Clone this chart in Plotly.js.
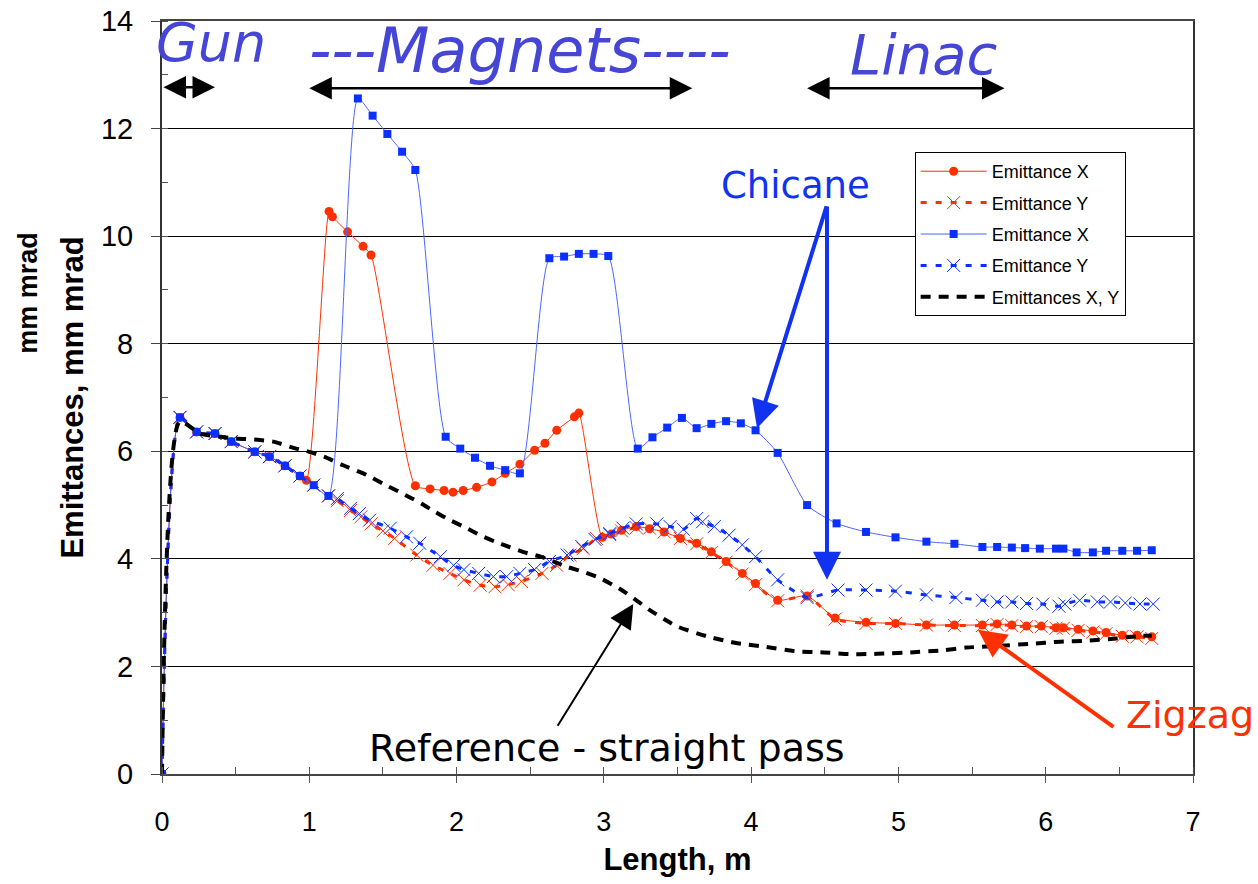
<!DOCTYPE html>
<html>
<head>
<meta charset="utf-8">
<script src="https://cdn.plot.ly/plotly-3.0.1.min.js"></script>
<style>html,body{margin:0;padding:0;background:#fff;}#chart{width:1258px;height:884px;}</style>
</head>
<body>
<div id="chart"></div>
<script>
// ---- Data ----
// Zigzag: Emittance X (red, solid, circles)
var zigXx = [0, 0.122, 0.235, 0.36, 0.47, 0.63, 0.73, 0.835, 0.937, 0.98, 1.134, 1.157, 1.26, 1.365, 1.419, 1.72, 1.82, 1.915, 1.976, 2.045, 2.136, 2.24, 2.33, 2.43, 2.53, 2.60, 2.68, 2.80, 2.83, 2.99, 3.05, 3.12, 3.22, 3.31, 3.41, 3.52, 3.63, 3.73, 3.83, 3.94, 4.03, 4.18, 4.38, 4.57, 4.78, 4.98, 5.19, 5.38, 5.57, 5.67, 5.77, 5.87, 5.97, 6.07, 6.12, 6.22, 6.32, 6.41, 6.52, 6.62, 6.72];
var zigXy = [0, 6.63, 6.36, 6.33, 6.18, 5.99, 5.90, 5.73, 5.54, 5.46, 10.46, 10.36, 10.08, 9.81, 9.65, 5.36, 5.30, 5.27, 5.24, 5.27, 5.33, 5.43, 5.59, 5.76, 6.02, 6.15, 6.39, 6.64, 6.71, 4.40, 4.46, 4.53, 4.60, 4.56, 4.50, 4.38, 4.29, 4.13, 3.95, 3.73, 3.54, 3.23, 3.31, 2.90, 2.82, 2.80, 2.77, 2.77, 2.77, 2.79, 2.77, 2.75, 2.75, 2.72, 2.72, 2.69, 2.66, 2.63, 2.58, 2.58, 2.55];

// Zigzag: Emittance Y (red, dashed, crosses)
var zigYx = [0, 0.122, 0.235, 0.36, 0.47, 0.63, 0.73, 0.835, 0.937, 1.03, 1.13, 1.19, 1.28, 1.35, 1.42, 1.50, 1.58, 1.73, 1.84, 1.955, 2.05, 2.16, 2.26, 2.35, 2.44, 2.58, 2.68, 2.77, 2.86, 2.95, 3.04, 3.12, 3.22, 3.31, 3.41, 3.52, 3.63, 3.73, 3.83, 3.94, 4.03, 4.18, 4.38, 4.57, 4.78, 4.98, 5.19, 5.38, 5.57, 5.67, 5.77, 5.87, 5.97, 6.07, 6.12, 6.22, 6.32, 6.41, 6.52, 6.62, 6.72];
var zigYy = [0, 6.63, 6.36, 6.33, 6.18, 5.99, 5.90, 5.73, 5.54, 5.37, 5.17, 5.08, 4.90, 4.78, 4.65, 4.52, 4.38, 4.07, 3.88, 3.73, 3.61, 3.51, 3.48, 3.52, 3.58, 3.73, 3.88, 4.07, 4.19, 4.38, 4.45, 4.52, 4.58, 4.57, 4.50, 4.38, 4.28, 4.12, 3.94, 3.72, 3.52, 3.22, 3.31, 2.88, 2.80, 2.80, 2.77, 2.76, 2.76, 2.78, 2.76, 2.74, 2.74, 2.71, 2.71, 2.67, 2.64, 2.61, 2.56, 2.55, 2.52];

// Chicane: Emittance X (blue, solid, squares)
var chiXx = [0, 0.122, 0.235, 0.36, 0.47, 0.63, 0.73, 0.835, 0.937, 1.03, 1.13, 1.33, 1.43, 1.53, 1.63, 1.72, 1.926, 2.025, 2.125, 2.227, 2.33, 2.43, 2.63, 2.73, 2.83, 2.93, 3.03, 3.23, 3.33, 3.43, 3.53, 3.63, 3.73, 3.83, 3.93, 4.03, 4.18, 4.38, 4.58, 4.78, 4.98, 5.19, 5.38, 5.57, 5.67, 5.77, 5.86, 5.96, 6.07, 6.12, 6.21, 6.32, 6.41, 6.52, 6.62, 6.72];
var chiXy = [0, 6.63, 6.36, 6.33, 6.18, 5.99, 5.90, 5.73, 5.54, 5.37, 5.17, 12.56, 12.24, 11.90, 11.57, 11.23, 6.27, 6.05, 5.88, 5.73, 5.65, 5.59, 9.59, 9.62, 9.67, 9.67, 9.63, 6.05, 6.26, 6.44, 6.62, 6.43, 6.51, 6.56, 6.52, 6.39, 5.97, 5.00, 4.66, 4.50, 4.40, 4.32, 4.28, 4.22, 4.22, 4.21, 4.20, 4.19, 4.19, 4.19, 4.12, 4.12, 4.15, 4.15, 4.15, 4.16];

// Chicane: Emittance Y (blue, dashed, crosses)
var chiYx = [0, 0.122, 0.235, 0.36, 0.47, 0.63, 0.73, 0.835, 0.937, 1.03, 1.13, 1.19, 1.28, 1.34, 1.41, 1.55, 1.66, 1.75, 1.89, 1.98, 2.05, 2.15, 2.25, 2.34, 2.43, 2.53, 2.63, 2.75, 2.85, 2.94, 3.04, 3.13, 3.22, 3.36, 3.45, 3.54, 3.63, 3.67, 3.75, 3.85, 3.94, 4.03, 4.18, 4.38, 4.59, 4.78, 4.98, 5.19, 5.39, 5.57, 5.67, 5.77, 5.87, 5.98, 6.09, 6.13, 6.23, 6.35, 6.44, 6.54, 6.64, 6.73];
var chiYy = [0, 6.63, 6.36, 6.33, 6.18, 5.99, 5.90, 5.73, 5.54, 5.37, 5.17, 5.12, 4.94, 4.84, 4.72, 4.57, 4.41, 4.29, 4.04, 3.88, 3.80, 3.73, 3.67, 3.67, 3.73, 3.80, 3.95, 4.07, 4.23, 4.36, 4.47, 4.57, 4.65, 4.65, 4.60, 4.55, 4.75, 4.69, 4.60, 4.44, 4.26, 4.04, 3.61, 3.28, 3.42, 3.42, 3.40, 3.33, 3.28, 3.23, 3.20, 3.20, 3.17, 3.16, 3.12, 3.16, 3.23, 3.20, 3.20, 3.18, 3.16, 3.16];

// Reference - straight pass: Emittances X, Y (black, dashed)
var refx = [0, 0.12, 0.26, 0.50, 0.665, 0.755, 0.91, 1.00, 1.10, 1.23, 1.39, 1.50, 1.65, 1.76, 1.85, 1.955, 2.07, 2.16, 2.26, 2.36, 2.45, 2.57, 2.66, 2.75, 2.86, 2.96, 3.11, 3.23, 3.31, 3.44, 3.50, 3.70, 3.89, 4.08, 4.31, 4.49, 4.67, 4.81, 4.90, 5.08, 5.30, 5.46, 5.67, 5.89, 6.10, 6.29, 6.48, 6.66, 6.72];
var refy = [0, 6.55, 6.33, 6.24, 6.21, 6.18, 6.05, 5.99, 5.90, 5.74, 5.56, 5.40, 5.19, 5.03, 4.88, 4.72, 4.57, 4.44, 4.32, 4.22, 4.13, 4.04, 3.95, 3.85, 3.76, 3.66, 3.44, 3.21, 3.05, 2.83, 2.74, 2.56, 2.44, 2.37, 2.28, 2.26, 2.23, 2.23, 2.24, 2.26, 2.30, 2.35, 2.38, 2.42, 2.46, 2.48, 2.52, 2.57, 2.57];

var seriesNames = ['Emittance X', 'Emittance Y', 'Emittance X', 'Emittance Y', 'Emittances X, Y'];
var xTicks = [0, 1, 2, 3, 4, 5, 6, 7];
var yTicks = [0, 2, 4, 6, 8, 10, 12, 14];

// ---- Styles ----
var RED = '#ff3000';
var BLUE = '#0a30ff';
var BLUE_LINE = '#4a66ff';
var TXT_BLUE = '#4646d6';
var HAND = 'DejaVu Sans, sans-serif';
var SANS = 'Liberation Sans, Arial, sans-serif';

var traces = [
  {x: zigXx, y: zigXy, name: seriesNames[0], legendgroup: 'g1', mode: 'lines+markers',
   line: {color: RED, width: 1, shape: 'spline', smoothing: 0.6},
   marker: {symbol: 'circle', size: 9, color: RED}},
  {x: zigYx, y: zigYy, name: seriesNames[1], legendgroup: 'g2', mode: 'lines+markers',
   line: {color: RED, width: 3, dash: '6px,9px', shape: 'spline', smoothing: 0.6},
   marker: {symbol: 'x-thin', size: 13, color: RED, line: {color: RED, width: 1}}},
  {x: chiXx, y: chiXy, name: seriesNames[2], legendgroup: 'g3', mode: 'lines+markers',
   line: {color: BLUE_LINE, width: 1, shape: 'spline', smoothing: 0.6},
   marker: {symbol: 'square', size: 8, color: BLUE}},
  {x: chiYx, y: chiYy, name: seriesNames[3], legendgroup: 'g4', mode: 'lines+markers',
   line: {color: BLUE, width: 3, dash: '6px,9px', shape: 'spline', smoothing: 0.6},
   marker: {symbol: 'x-thin', size: 13, color: BLUE, line: {color: BLUE, width: 1}}},
  {x: refx, y: refy, name: seriesNames[4], legendgroup: 'g5', mode: 'lines',
   line: {color: '#000', width: 4, dash: '10px,8px', shape: 'spline', smoothing: 0.6}}
];

function arrow(x0, y0, x1, y1, color, width, size, both) {
  return {x: x1, y: y1, ax: x0, ay: y0, xref: 'x', yref: 'y', axref: 'x', ayref: 'y',
    text: '', showarrow: true, arrowhead: 2, arrowsize: size, arrowwidth: width,
    arrowcolor: color, arrowside: both ? 'end+start' : 'end', standoff: 0, startstandoff: 0};
}
function label(text, x, y, size, color, italic) {
  return {text: text, x: x, y: y, xref: 'paper', yref: 'paper', xanchor: 'center', yanchor: 'middle',
    showarrow: false, font: {family: HAND, size: size, color: color, style: italic ? 'italic' : 'normal'}};
}

var annotations = [
  label('Gun', 0.0475, 0.972, 54, TXT_BLUE, true),
  label('---Magnets----', 0.347, 0.961, 62, TXT_BLUE, true),
  label('Linac', 0.739, 0.955, 56, TXT_BLUE, true),
  label('Chicane', 0.614, 0.782, 37, '#1133f0', false),
  label('Reference - straight pass', 0.432, 0.0345, 38, '#000', false),
  label('Zigzag', 0.997, 0.078, 38, RED, false),
  {text: '<b>mm mrad</b>', x: -0.13, y: 0.639, xref: 'paper', yref: 'paper', xanchor: 'center', yanchor: 'middle',
   showarrow: false, textangle: -90, font: {family: SANS, size: 27, color: '#000'}},
  arrow(0.0, 12.77, 0.36, 12.77, '#000', 2.5, 1.8, true),
  arrow(0.99, 12.75, 3.6, 12.75, '#000', 2.5, 1.8, true),
  arrow(4.37, 12.75, 5.72, 12.75, '#000', 2.5, 1.8, true),
  arrow(4.515, 10.58, 4.04, 6.43, '#1133f0', 4, 1.4, false),
  arrow(4.515, 10.58, 4.515, 3.61, '#1133f0', 4, 1.4, false),
  arrow(2.68, 0.87, 3.20, 3.16, '#000', 2, 2.4, false),
  arrow(6.47, 0.855, 5.54, 2.68, RED, 4, 1.4, false)
];

var layout = {
  width: 1258, height: 884,
  margin: {l: 162, r: 65, t: 21, b: 110},
  paper_bgcolor: '#fff', plot_bgcolor: '#fff',
  font: {family: SANS, color: '#000'},
  showlegend: true,
  legend: {x: 0.730, y: 0.826, xanchor: 'left', yanchor: 'top', bgcolor: '#fff',
    bordercolor: '#000', borderwidth: 1, font: {size: 18, family: SANS},
    itemwidth: 66, tracegroupgap: 5},
  xaxis: {range: [0, 7], tickvals: xTicks, ticktext: xTicks.map(String), showgrid: false, zeroline: false,
    showline: true, linecolor: '#444', linewidth: 2, mirror: true,
    ticks: 'outside', ticklen: 7, tickcolor: '#555', tickwidth: 1, ticklabelstandoff: 16,
    minor: {ticks: 'inside', dtick: 0.5, ticklen: 7, tickcolor: '#555'},
    tickfont: {size: 27},
    title: {text: '<b>Length, m</b>', font: {size: 31}, standoff: 12}},
  yaxis: {range: [0, 14], tickvals: yTicks, ticktext: yTicks.map(String), showgrid: true, gridcolor: '#000', gridwidth: 1,
    zeroline: false, showline: true, linecolor: '#333', linewidth: 2, mirror: true,
    ticks: 'outside', ticklen: 9, tickcolor: '#444', tickwidth: 1, ticklabelstandoff: 12,
    minor: {ticks: 'inside', dtick: 1, ticklen: 6, tickcolor: '#555'},
    tickfont: {size: 29},
    title: {text: '<b>Emittances, mm mrad</b>', font: {size: 31}, standoff: 8}},
  annotations: annotations
};

Plotly.newPlot('chart', traces, layout, {displayModeBar: false, staticPlot: true});
</script>
</body>
</html>
